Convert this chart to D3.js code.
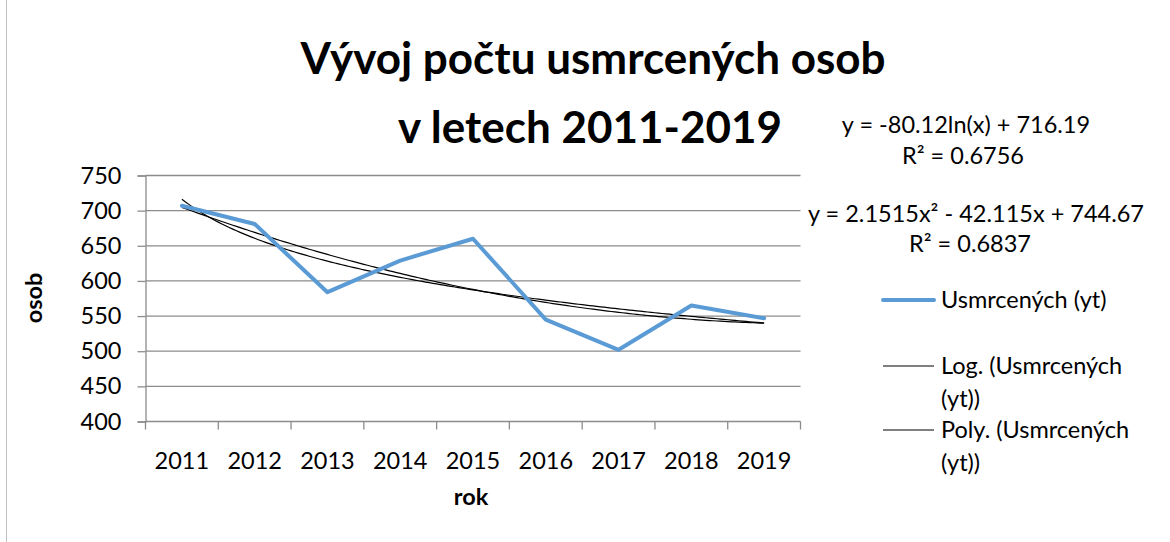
<!DOCTYPE html>
<html>
<head>
<meta charset="utf-8">
<script src="https://cdn.jsdelivr.net/npm/d3@7"></script>
<style>
  body { margin: 0; background: #fff; }
  svg { display: block; font-family: Lato, "Open Sans", sans-serif; }
</style>
</head>
<body>
<div id="chart"></div>
<script>
// years and deaths
const years = ['2011', '2012', '2013', '2014', '2015', '2016', '2017', '2018', '2019'];
const deaths = [707, 681, 584, 629, 660, 545, 502, 565, 547];
const yTicks = [400, 450, 500, 550, 600, 650, 700, 750];

// trendline coefficients as printed on the chart
const logCoef = [-80.12, 716.19];
const polyCoef = [2.1515, -42.115, 744.67];
const trendLabels = [
  ['y = -80.12ln(x) + 716.19', 'R² = 0.6756'],
  ['y = 2.1515x² - 42.115x + 744.67', 'R² = 0.6837']
];
const legendItems = [
  { lines: ['Usmrcených (yt)'], color: '#5b9bd5', w: 4 },
  { lines: ['Log. (Usmrcených', '(yt))'], color: '#000', w: 1.2 },
  { lines: ['Poly. (Usmrcených', '(yt))'], color: '#000', w: 1.2 }
];

const width = 1170, height = 542;
const fs = 23.5;
const svg = d3.select('#chart').append('svg')
  .attr('width', width)
  .attr('height', height);

// chart border (only the left edge is in frame)
svg.append('line')
  .attr('x1', 6.5).attr('x2', 6.5).attr('y1', 0).attr('y2', height)
  .attr('stroke', '#bfbfbf');

const x = d3.scaleBand().domain(years).range([145.5, 800.5]);
const y = d3.scaleLinear().domain([400, 750]).range([421.5, 175.5]);
const cx = d => x(d) + x.bandwidth() / 2;

// gridlines
svg.append('g').selectAll('line')
  .data(yTicks.slice(1))
  .enter().append('line')
  .attr('x1', x.range()[0]).attr('x2', x.range()[1])
  .attr('y1', d => y(d)).attr('y2', d => y(d))
  .attr('stroke', '#8c8c8c').attr('stroke-width', 1.3);

// y axis
const yAxis = svg.append('g')
  .attr('transform', `translate(${x.range()[0]},0)`)
  .call(d3.axisLeft(y).tickValues(yTicks).tickSize(8).tickPadding(16));
yAxis.select('.domain').attr('stroke', '#8c8c8c').attr('stroke-width', 1.3);
yAxis.selectAll('.tick line').attr('stroke', '#8c8c8c').attr('stroke-width', 1.3);
yAxis.selectAll('text').attr('font-size', fs).attr('fill', '#000')
  .attr('font-family', 'Lato, sans-serif');

// x axis: ticks between categories
const xAxis = svg.append('g')
  .attr('transform', `translate(0,${y.range()[0]})`);
xAxis.append('line')
  .attr('x1', x.range()[0]).attr('x2', x.range()[1])
  .attr('stroke', '#8c8c8c').attr('stroke-width', 1.3);
xAxis.selectAll('line.tk')
  .data(years.map(d => x(d)).concat([x.range()[1]]))
  .enter().append('line').attr('class', 'tk')
  .attr('x1', d => d).attr('x2', d => d)
  .attr('y1', 0).attr('y2', 8)
  .attr('stroke', '#8c8c8c').attr('stroke-width', 1.3);
xAxis.selectAll('text')
  .data(years)
  .enter().append('text')
  .attr('x', d => cx(d)).attr('y', 47)
  .attr('text-anchor', 'middle')
  .attr('font-size', fs)
  .text(d => d);

// axis titles
svg.append('text')
  .attr('x', 471).attr('y', 505)
  .attr('text-anchor', 'middle')
  .attr('font-size', fs).attr('font-weight', 'bold')
  .text('rok');
svg.append('text')
  .attr('transform', 'translate(42,298) rotate(-90)')
  .attr('text-anchor', 'middle')
  .attr('font-size', fs).attr('font-weight', 'bold')
  .text('osob');

// title
const title = svg.append('text')
  .attr('text-anchor', 'middle')
  .attr('font-size', 44).attr('font-weight', 'bold');
title.append('tspan').attr('x', 593).attr('y', 74).text('Vývoj počtu usmrcených osob');
title.append('tspan').attr('x', 590).attr('y', 143).text('v letech 2011-2019');

// trendlines, drawn from first to last category centre
const xs = d3.range(1, years.length + 0.001, 0.05);
const logFn = t => logCoef[0] * Math.log(t) + logCoef[1];
const polyFn = t => polyCoef[0] * t * t + polyCoef[1] * t + polyCoef[2];
const xt = d3.scaleLinear().domain([1, years.length]).range([cx(years[0]), cx(years[years.length - 1])]);
const trend = d3.line().x(t => xt(t));

svg.append('path')
  .datum(xs)
  .attr('d', trend.y(t => y(logFn(t))))
  .attr('fill', 'none').attr('stroke', '#000').attr('stroke-width', 1.2);
svg.append('path')
  .datum(xs)
  .attr('d', trend.y(t => y(polyFn(t))))
  .attr('fill', 'none').attr('stroke', '#000').attr('stroke-width', 1.2);

// data line
svg.append('path')
  .datum(deaths)
  .attr('d', d3.line().x((d, i) => cx(years[i])).y(d => y(d)))
  .attr('fill', 'none')
  .attr('stroke', '#5b9bd5')
  .attr('stroke-width', 4)
  .attr('stroke-linejoin', 'round')
  .attr('stroke-linecap', 'round');

// trendline equations
const eqPos = [[966, 133, 963, 164], [976, 222, 970, 252]];
trendLabels.forEach((lab, i) => {
  const p = eqPos[i];
  svg.append('text').attr('x', p[0]).attr('y', p[1])
    .attr('text-anchor', 'middle').attr('font-size', fs).text(lab[0]);
  svg.append('text').attr('x', p[2]).attr('y', p[3])
    .attr('text-anchor', 'middle').attr('font-size', fs).text(lab[1]);
});

// legend
const legendY = [300, 366, 430];
const legend = svg.append('g');
legendItems.forEach((item, i) => {
  const g = legend.append('g').attr('transform', `translate(0,${legendY[i]})`);
  g.append('line')
    .attr('x1', 883).attr('x2', 934)
    .attr('stroke', item.color).attr('stroke-width', item.w)
    .attr('stroke-linecap', item.w > 2 ? 'round' : 'butt');
  g.selectAll('text')
    .data(item.lines)
    .enter().append('text')
    .attr('x', 941).attr('y', (d, j) => 8 + j * 33)
    .attr('font-size', fs)
    .text(d => d);
});
</script>
</body>
</html>
